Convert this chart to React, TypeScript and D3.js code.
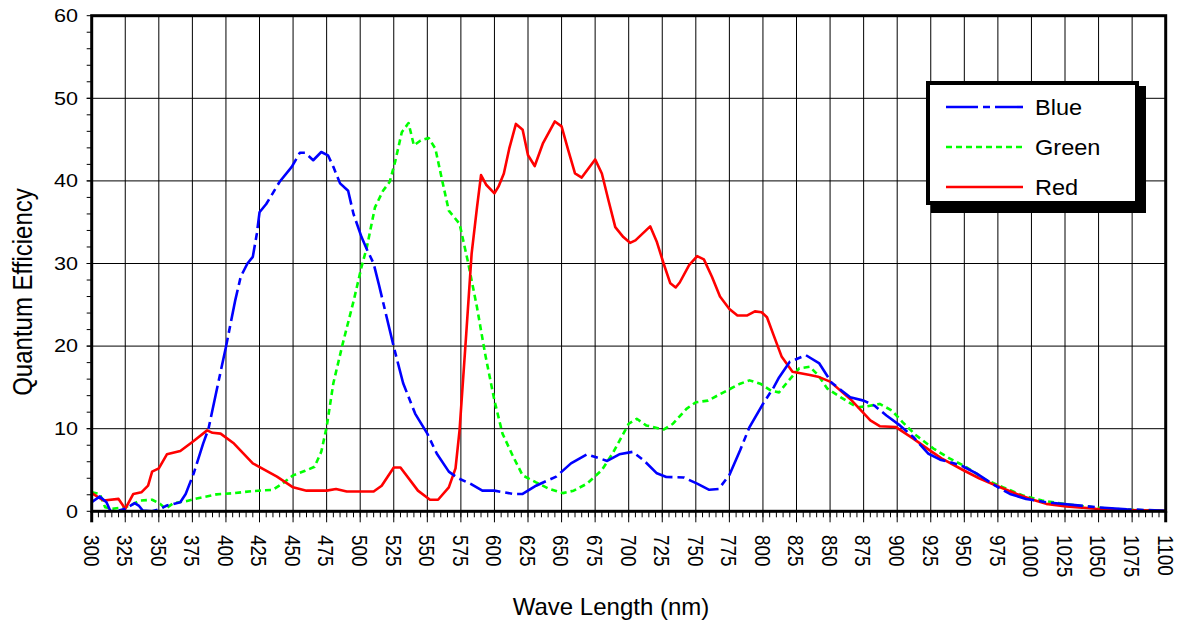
import React from "react";
import * as d3 from "d3";

// wavelength (nm) / quantum efficiency (%)
const redNm = [300, 309, 320, 325, 331, 337, 342, 345, 350, 356, 366, 375, 386, 390, 396, 406, 420, 438, 450, 460, 475, 482, 490, 510, 516, 525, 530, 543, 552, 558, 566, 571, 574, 579, 583, 587, 590, 594, 600, 603, 607, 611, 616, 621, 625, 630, 636, 645, 650, 655, 660, 665, 670, 675, 680, 685, 690, 696, 701, 705, 716, 721, 726, 731, 735, 738, 745, 751, 756, 762, 768, 775, 781, 788, 794, 799, 803, 808, 814, 822, 835, 841, 850, 865, 880, 887, 899, 912, 924, 933, 949, 961, 974, 989, 1001, 1011, 1026, 1048, 1071, 1100];
const redQE = [2.2, 1.3, 1.5, 0.3, 2.1, 2.3, 3.1, 4.8, 5.2, 6.9, 7.3, 8.4, 9.8, 9.5, 9.4, 8.2, 5.8, 4.2, 2.9, 2.5, 2.5, 2.7, 2.4, 2.4, 3.1, 5.3, 5.3, 2.5, 1.4, 1.4, 2.9, 5.2, 9.8, 21.5, 31.2, 36.8, 40.7, 39.5, 38.5, 39.3, 40.9, 43.9, 46.9, 46.2, 43.1, 41.8, 44.5, 47.2, 46.6, 43.7, 40.9, 40.4, 41.5, 42.6, 40.9, 37.6, 34.4, 33.2, 32.5, 32.8, 34.5, 32.6, 30.0, 27.6, 27.1, 27.7, 29.8, 30.9, 30.5, 28.4, 26.0, 24.5, 23.7, 23.7, 24.2, 24.1, 23.5, 21.3, 18.7, 16.9, 16.5, 16.3, 15.7, 13.6, 11.0, 10.3, 10.2, 8.8, 7.4, 6.4, 5.0, 4.0, 3.1, 2.1, 1.4, 0.9, 0.6, 0.3, 0.16, 0.05];

const blueNm = [300, 306, 311, 314, 320, 325, 332, 335, 338, 345, 351, 356, 366, 370, 376, 383, 387, 393, 400, 407, 411, 416, 420, 423, 425, 430, 440, 449, 455, 459, 465, 471, 476, 480, 485, 491, 495, 501, 505, 510, 514, 525, 532, 541, 550, 557, 566, 573, 582, 591, 600, 614, 621, 631, 646, 657, 669, 684, 693, 703, 711, 721, 728, 741, 751, 760, 767, 775, 783, 790, 800, 808, 812, 820, 832, 842, 851, 865, 875, 883, 892, 902, 912, 923, 932, 947, 959, 971, 984, 996, 1011, 1048, 1071, 1100];
const blueQE = [1.1, 1.8, 1.1, 0, 0.1, 0.3, 1.0, 0.7, 0.1, 0, 0.3, 0.7, 1.1, 2.1, 4.6, 8.2, 10.0, 14.6, 19.9, 25.6, 28.4, 30.0, 30.8, 33.6, 36.2, 37.2, 39.9, 41.7, 43.4, 43.4, 42.5, 43.5, 43.1, 41.7, 39.7, 38.8, 36.0, 33.2, 31.7, 30.0, 27.4, 19.9, 15.5, 11.8, 9.4, 7.0, 4.8, 4.0, 3.35, 2.5, 2.5, 2.1, 2.1, 3.1, 4.2, 5.8, 6.9, 6.1, 6.9, 7.2, 6.2, 4.6, 4.15, 4.1, 3.35, 2.6, 2.7, 4.4, 7.4, 10.2, 13.0, 15.0, 16.2, 18.1, 18.9, 17.9, 15.6, 13.8, 13.4, 12.8, 11.6, 10.4, 9.0, 7.0, 6.25, 5.6, 4.6, 3.3, 2.1, 1.5, 1.1, 0.5, 0.25, 0.05];

const greenNm = [300, 306, 310, 315, 325, 330, 336, 345, 351, 355, 361, 371, 381, 393, 406, 420, 435, 442, 450, 459, 466, 471, 475, 480, 487, 495, 501, 505, 511, 517, 522, 526, 531, 536, 540, 545, 551, 556, 561, 566, 574, 580, 587, 593, 600, 606, 614, 621, 631, 641, 651, 659, 669, 680, 688, 700, 706, 713, 726, 733, 743, 750, 759, 773, 783, 790, 798, 806, 812, 818, 827, 835, 841, 848, 858, 870, 877, 887, 896, 904, 914, 927, 939, 951, 966, 979, 994, 1008, 1026, 1048, 1071, 1100];
const greenQE = [2.3, 2.1, 0.5, 0.3, 0.5, 0.8, 1.3, 1.4, 0.9, 0.3, 1.0, 1.25, 1.65, 2.05, 2.2, 2.45, 2.6, 3.35, 4.35, 4.9, 5.4, 7.2, 10.2, 15.5, 20.3, 25.4, 29.6, 32.0, 36.8, 38.8, 39.9, 42.3, 45.9, 47.0, 44.3, 44.9, 45.2, 43.9, 40.1, 36.4, 34.8, 30.4, 24.7, 19.1, 13.4, 9.4, 6.6, 4.35, 3.5, 2.7, 2.2, 2.5, 3.35, 5.0, 7.0, 10.6, 11.2, 10.4, 9.9, 10.6, 12.4, 13.2, 13.4, 14.6, 15.45, 15.85, 15.45, 14.6, 14.4, 15.6, 17.3, 17.5, 16.5, 14.85, 13.8, 12.6, 12.7, 13.0, 12.2, 10.8, 9.2, 7.6, 6.4, 5.4, 3.8, 2.9, 1.9, 1.3, 0.85, 0.45, 0.2, 0.05];

const xTicks = d3.range(300, 1101, 25);
const xMinor = d3.range(300, 1101, 5);
const yTicks = [0, 10, 20, 30, 40, 50, 60];
const yMinor = d3.range(0, 61, 2);

const seriesNames = ["Green", "Red", "Blue"];
const legendNames = ["Blue", "Green", "Red"];

const font = "Arial, 'Liberation Sans', sans-serif";

const styles: Record<string, { color: string; dash: string }> = {
  Blue: { color: "#0000ff", dash: "32,5,7,5" },
  Green: { color: "#00ff00", dash: "6,4" },
  Red: { color: "#ff0000", dash: "" },
};

const dims = { width: 1181, height: 622, left: 91.7, right: 1165.7, top: 15.7, bottom: 511.3 };

export default function App() {
  const x = d3.scaleLinear().domain([300, 1100]).range([dims.left, dims.right]);
  const y = d3.scaleLinear().domain([0, 60]).range([dims.bottom, dims.top]);

  const line = d3
    .line<[number, number]>()
    .x((d) => x(d[0]))
    .y((d) => y(d[1]));

  const series: Record<string, [number, number][]> = {
    Red: redNm.map((n, i) => [n, redQE[i]]),
    Blue: blueNm.map((n, i) => [n, blueQE[i]]),
    Green: greenNm.map((n, i) => [n, greenQE[i]]),
  };

  return (
    <svg
      width={dims.width}
      height={dims.height}
      style={{ position: "absolute", left: 0, top: 0, background: "#fff" }}
      fontFamily={font}
    >
      <defs>
        <clipPath id="plot">
          <rect x={dims.left} y={dims.top} width={dims.right - dims.left} height={dims.bottom - dims.top} />
        </clipPath>
      </defs>

      {/* grid */}
      {xTicks.slice(1, -1).map((t) => (
        <line key={"gx" + t} x1={x(t)} x2={x(t)} y1={dims.top} y2={dims.bottom + 11} stroke="#000" strokeWidth={1} />
      ))}
      {yTicks.slice(1, -1).map((t) => (
        <line key={"gy" + t} x1={dims.left - 5} x2={dims.right} y1={y(t)} y2={y(t)} stroke="#000" strokeWidth={1} />
      ))}

      {/* minor ticks */}
      {xMinor.map((t) => (
        <line key={"mx" + t} x1={x(t)} x2={x(t)} y1={dims.bottom} y2={dims.bottom + 6} stroke="#000" strokeWidth={1} />
      ))}
      {yMinor.map((t) => (
        <line key={"my" + t} x1={dims.left - 5} x2={dims.left} y1={y(t)} y2={y(t)} stroke="#000" strokeWidth={1} />
      ))}

      {/* curves */}
      <g clipPath="url(#plot)">
        {seriesNames.map((s) => (
          <path
            key={s}
            d={line(series[s]) || ""}
            fill="none"
            stroke={styles[s].color}
            strokeWidth={2.6}
            strokeDasharray={styles[s].dash || undefined}
            strokeLinejoin="round"
          />
        ))}
      </g>

      {/* frame */}
      <rect
        x={dims.left}
        y={dims.top}
        width={dims.right - dims.left}
        height={dims.bottom - dims.top}
        fill="none"
        stroke="#000"
        strokeWidth={3}
      />
      <line x1={dims.left} x2={dims.left} y1={dims.bottom} y2={dims.bottom + 11} stroke="#000" strokeWidth={3} />
      <line x1={dims.right} x2={dims.right} y1={dims.bottom} y2={dims.bottom + 11} stroke="#000" strokeWidth={3} />

      {/* y tick labels */}
      {yTicks.map((t) => (
        <text
          key={"ty" + t}
          transform={`translate(78,${y(t)}) scale(1.2,1)`}
          textAnchor="end"
          dominantBaseline="central"
          fontSize={18}
          fill="#000"
        >
          {t}
        </text>
      ))}

      {/* x tick labels */}
      {xTicks.map((t) => (
        <text
          key={"tx" + t}
          transform={`translate(${x(t)},535) scale(1.2,1) rotate(90)`}
          textAnchor="start"
          dominantBaseline="central"
          fontSize={19}
          fill="#000"
        >
          {t}
        </text>
      ))}

      {/* axis titles */}
      <text transform="translate(32,292) scale(1.15,1) rotate(-90)" textAnchor="middle" fontSize={24} fill="#000">
        Quantum Efficiency
      </text>
      <text x={611} y={615} textAnchor="middle" fontSize={24} fill="#000">
        Wave Length (nm)
      </text>

      {/* legend */}
      <rect x={931} y={86} width={215} height={127} fill="#000" />
      <rect x={928} y={83} width={209} height={120} fill="#fff" stroke="#000" strokeWidth={4} />
      {legendNames.map((s, i) => {
        const ly = 107 + i * 40;
        return (
          <g key={"lg" + s}>
            <line
              x1={946}
              x2={1023}
              y1={ly}
              y2={ly}
              stroke={styles[s].color}
              strokeWidth={2.6}
              strokeDasharray={styles[s].dash || undefined}
            />
            <text transform={`translate(1035,${ly + 8}) scale(1.07,1)`} fontSize={22} fill="#000">
              {s}
            </text>
          </g>
        );
      })}
    </svg>
  );
}
